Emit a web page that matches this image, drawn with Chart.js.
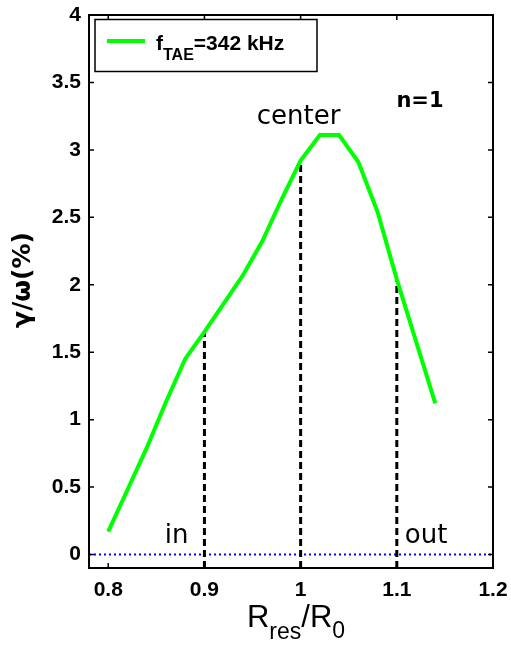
<!DOCTYPE html>
<html>
<head>
<meta charset="utf-8">
<script src="https://cdn.jsdelivr.net/npm/chart.js@4"></script>
<style>
    html, body { margin: 0; padding: 0; background: #fff; }
    canvas { display: block; }
</style>
</head>
<body>
<canvas id="chart" width="511" height="648"></canvas>
<script>
// R_res / R_0 positions and growth rate gamma/omega (%)
const rRes = [0.80, 0.82, 0.84, 0.86, 0.88, 0.90, 0.92, 0.94, 0.96, 0.98,
              1.00, 1.02, 1.04, 1.06, 1.08, 1.10, 1.12, 1.14];
const gammaPct = [0.17, 0.48, 0.79, 1.13, 1.45, 1.65, 1.86, 2.07, 2.32, 2.63,
                  2.92, 3.11, 3.11, 2.91, 2.54, 2.04, 1.58, 1.12];

const xTicks = [0.8, 0.9, 1.0, 1.1, 1.2];
const yTicks = [0, 0.5, 1, 1.5, 2, 2.5, 3, 3.5, 4];
const xMin = 0.78, xMax = 1.2;
const yMin = -0.1, yMax = 4;

// positions marked with dashed lines
const markX = [0.9, 1.0, 1.1];
const markLabels = ['in', 'center', 'out'];

const BOLD = "'Liberation Sans', Arial, sans-serif";

function valueAt(x) {
    const idx = rRes.findIndex(v => Math.abs(v - x) < 1e-6);
    return gammaPct[idx];
}

const datasets = [{
    label: 'fTAE=342 kHz',
    data: rRes.map((x, i) => ({ x: x, y: gammaPct[i] })),
    borderColor: '#00ff00',
    borderWidth: 4,
    pointRadius: 0,
    tension: 0
}];

markX.forEach(m => {
    datasets.push({
        label: 'mark ' + m,
        data: [{ x: m, y: yMin }, { x: m, y: valueAt(m) }],
        borderColor: '#000',
        borderWidth: 3,
        borderDash: [7, 4],
        pointRadius: 0
    });
});

datasets.push({
    label: 'zero',
    data: [{ x: xMin, y: 0 }, { x: xMax, y: 0 }],
    borderColor: '#0000ff',
    borderWidth: 2,
    borderDash: [2, 3],
    pointRadius: 0
});

// text with subscript parts
function drawSub(ctx, x, y, parts) {
    parts.forEach(p => {
        ctx.font = p.font;
        ctx.fillText(p.text, x, y + (p.dy || 0));
        x += ctx.measureText(p.text).width;
    });
    return x;
}

const decorPlugin = {
    id: 'decor',
    afterDraw(chart) {
        const ctx = chart.ctx;
        const a = chart.chartArea;
        const xs = chart.scales.x, ys = chart.scales.y;
        ctx.save();

        // axis box
        ctx.strokeStyle = '#000';
        ctx.lineWidth = 2;
        ctx.strokeRect(a.left, a.top, a.right - a.left, a.bottom - a.top);

        // inward tick marks on all four sides
        ctx.lineWidth = 1.5;
        ctx.beginPath();
        xTicks.forEach(v => {
            const px = xs.getPixelForValue(v);
            ctx.moveTo(px, a.bottom); ctx.lineTo(px, a.bottom - 5);
            ctx.moveTo(px, a.top); ctx.lineTo(px, a.top + 5);
        });
        yTicks.forEach(v => {
            const py = ys.getPixelForValue(v);
            ctx.moveTo(a.left, py); ctx.lineTo(a.left + 5, py);
            ctx.moveTo(a.right, py); ctx.lineTo(a.right - 5, py);
        });
        ctx.stroke();

        ctx.fillStyle = '#000';
        ctx.textBaseline = 'alphabetic';

        // in / center / out
        ctx.font = "26px 'DejaVu Sans', sans-serif";
        const base = ys.getPixelForValue(0) - 12;
        ctx.textAlign = 'right';
        ctx.fillText(markLabels[0], xs.getPixelForValue(markX[0]) - 16, base);
        ctx.textAlign = 'left';
        ctx.fillText(markLabels[2], xs.getPixelForValue(markX[2]) + 8, base);
        ctx.textAlign = 'center';
        ctx.fillText(markLabels[1], xs.getPixelForValue(markX[1]) - 2, ys.getPixelForValue(3.2) + 1);

        ctx.font = "bold 21px 'DejaVu Sans', sans-serif";
        ctx.fillText('n=1', 420, 107);

        // legend
        ctx.lineWidth = 1.5;
        ctx.strokeRect(95, 19.5, 222, 52);
        ctx.strokeStyle = '#00ff00';
        ctx.lineWidth = 4;
        ctx.beginPath();
        ctx.moveTo(107, 41); ctx.lineTo(145, 41);
        ctx.stroke();
        ctx.textAlign = 'left';
        drawSub(ctx, 156, 50, [
            { text: 'f', font: 'bold 21px ' + BOLD },
            { text: 'TAE', font: 'bold 16px ' + BOLD, dy: 10 },
            { text: '=342 kHz', font: 'bold 21px ' + BOLD }
        ]);

        // x axis title
        const parts = [
            { text: 'R', font: '31px ' + BOLD },
            { text: 'res', font: '23px ' + BOLD, dy: 12 },
            { text: '/R', font: '31px ' + BOLD },
            { text: '0', font: '23px ' + BOLD, dy: 11 }
        ];
        let w = 0;
        parts.forEach(p => { ctx.font = p.font; w += ctx.measureText(p.text).width; });
        drawSub(ctx, (a.left + a.right) / 2 - w / 2 + 5, 627, parts);

        // y axis title
        ctx.translate(30, 280);
        ctx.rotate(-Math.PI / 2);
        ctx.textAlign = 'center';
        ctx.font = "bold 25px 'DejaVu Sans', sans-serif";
        ctx.fillText('γ/ω(%)', 0, 0);

        ctx.restore();
    }
};

new Chart(document.getElementById('chart'), {
    type: 'line',
    data: { datasets: datasets },
    options: {
        responsive: false,
        animation: false,
        layout: { padding: 0 },
        plugins: {
            legend: { display: false },
            tooltip: { enabled: false }
        },
        scales: {
            x: {
                type: 'linear',
                min: xMin,
                max: xMax,
                afterBuildTicks: s => { s.ticks = xTicks.map(v => ({ value: v })); },
                afterFit: s => { s.height = 80; s.paddingLeft = 0; s.paddingRight = 18; },
                grid: { display: false, drawTicks: false },
                border: { display: false },
                ticks: {
                    padding: 10,
                    color: '#000',
                    maxRotation: 0,
                    font: { family: BOLD, size: 21, weight: 'bold' },
                    callback: v => String(Math.round(v * 10) / 10)
                }
            },
            y: {
                type: 'linear',
                min: yMin,
                max: yMax,
                afterBuildTicks: s => { s.ticks = yTicks.map(v => ({ value: v })); },
                afterFit: s => { s.width = 89; s.paddingTop = 15; s.paddingBottom = 0; },
                grid: { display: false, drawTicks: false },
                border: { display: false },
                ticks: {
                    padding: 8,
                    color: '#000',
                    font: { family: BOLD, size: 21, weight: 'bold' },
                    callback: v => String(v)
                }
            }
        }
    },
    plugins: [decorPlugin]
});
</script>
</body>
</html>
